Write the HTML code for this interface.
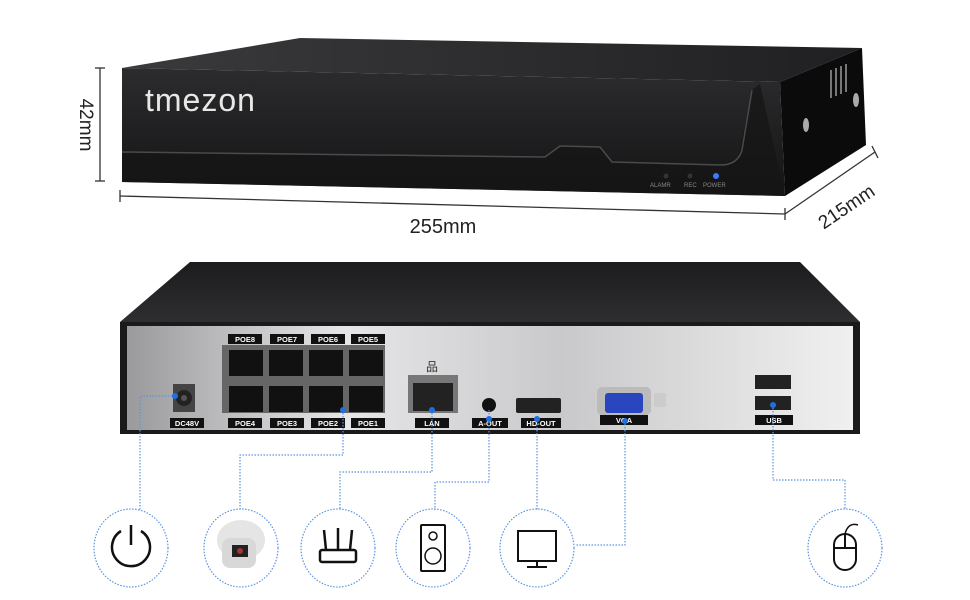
<!DOCTYPE html>
<html><head><meta charset="utf-8"><style>
html,body{margin:0;padding:0;background:#fff;}
svg{display:block}
text{font-family:"Liberation Sans",sans-serif}
</style></head><body>
<svg width="970" height="600" viewBox="0 0 970 600" xmlns="http://www.w3.org/2000/svg">
<defs>
<linearGradient id="front" x1="0" y1="0" x2="0" y2="1"><stop offset="0" stop-color="#2c2c2e"/><stop offset="1" stop-color="#141415"/></linearGradient>
<linearGradient id="topg" x1="0" y1="0" x2="1" y2="0"><stop offset="0" stop-color="#3a3a3c"/><stop offset="1" stop-color="#202022"/></linearGradient>
<linearGradient id="panel" x1="0" y1="0" x2="1" y2="0"><stop offset="0" stop-color="#9a9a9c"/><stop offset="0.3" stop-color="#e6e6e8"/><stop offset="0.6" stop-color="#c9c9cb"/><stop offset="1" stop-color="#f0f0f0"/></linearGradient>
<linearGradient id="topb" x1="0" y1="0" x2="0" y2="1"><stop offset="0" stop-color="#1c1c1e"/><stop offset="1" stop-color="#2e2e30"/></linearGradient>
</defs>

<!-- top device -->
<polygon points="122,68 300,38 862,48 780,82" fill="url(#topg)"/>
<polygon points="780,82 862,48 866,145 785,196" fill="#0b0b0c"/>
<polygon points="122,68 780,82 785,196 122,182" fill="url(#front)"/>
<polygon points="122,152 545,157 560,146 600,147 612,162 720,165 738,158 752,90 760,84 785,196 122,182" fill="#151516" opacity="0.75"/>
<path d="M122,152 L545,157 L560,146 L600,147 L612,162 L720,165 Q738,165 742,150 L752,90" fill="none" stroke="#4a4a4c" stroke-width="1.5"/>
<g fill="#777"><rect x="830" y="70" width="2" height="28"/><rect x="835" y="68" width="2" height="28"/><rect x="840" y="66" width="2" height="28"/><rect x="845" y="64" width="2" height="28"/></g>
<ellipse cx="806" cy="125" rx="3" ry="7" fill="#aaa"/><ellipse cx="856" cy="100" rx="3" ry="7" fill="#aaa"/>
<text x="145" y="111" font-size="32" fill="#e8e8e8" letter-spacing="1">tmezon</text>
<circle cx="666" cy="176" r="2.5" fill="#333"/><circle cx="690" cy="176" r="2.5" fill="#333"/><circle cx="716" cy="176" r="3" fill="#3a7bff"/>
<text x="650" y="187" font-size="6" fill="#888">ALAMR</text><text x="684" y="187" font-size="6" fill="#888">REC</text><text x="703" y="187" font-size="6" fill="#888">POWER</text>

<!-- dimensions -->
<g stroke="#333" stroke-width="1.3" fill="none">
<line x1="100" y1="68" x2="100" y2="181"/><line x1="95" y1="68" x2="105" y2="68"/><line x1="95" y1="181" x2="105" y2="181"/>
<line x1="120" y1="196" x2="785" y2="214"/><line x1="120" y1="190" x2="120" y2="202"/><line x1="785" y1="208" x2="785" y2="220"/>
<line x1="785" y1="214" x2="875" y2="152"/><line x1="872" y1="146" x2="878" y2="158"/>
</g>
<text transform="translate(80,125) rotate(90)" font-size="19" fill="#222" text-anchor="middle">42mm</text>
<text x="443" y="233" font-size="20" fill="#222" text-anchor="middle">255mm</text>
<text transform="translate(850,212) rotate(-34)" font-size="19" fill="#222" text-anchor="middle">215mm</text>

<!-- back device -->
<polygon points="120,322 190,262 800,262 860,322" fill="url(#topb)"/>
<rect x="120" y="322" width="740" height="112" fill="#1a1a1a"/>
<rect x="127" y="326" width="726" height="104" fill="url(#panel)"/>
<rect x="222" y="345" width="163" height="68" fill="#666"/>
<g fill="#111">
<rect x="229" y="350" width="34" height="26"/><rect x="269" y="350" width="34" height="26"/><rect x="309" y="350" width="34" height="26"/><rect x="349" y="350" width="34" height="26"/>
<rect x="229" y="386" width="34" height="26"/><rect x="269" y="386" width="34" height="26"/><rect x="309" y="386" width="34" height="26"/><rect x="349" y="386" width="34" height="26"/>
</g>
<g fill="#111"><rect x="228" y="334" width="34" height="10"/><rect x="270" y="334" width="34" height="10"/><rect x="311" y="334" width="34" height="10"/><rect x="351" y="334" width="34" height="10"/>
<rect x="228" y="418" width="34" height="10"/><rect x="270" y="418" width="34" height="10"/><rect x="311" y="418" width="34" height="10"/><rect x="351" y="418" width="34" height="10"/>
<rect x="170" y="418" width="34" height="10"/><rect x="415" y="418" width="34" height="10"/><rect x="472" y="418" width="36" height="10"/><rect x="521" y="418" width="40" height="10"/><rect x="600" y="415" width="48" height="10"/><rect x="755" y="415" width="38" height="10"/></g>
<g font-size="7.5" font-weight="bold" fill="#fff" text-anchor="middle">
<text x="245" y="342">POE8</text><text x="287" y="342">POE7</text><text x="328" y="342">POE6</text><text x="368" y="342">POE5</text>
<text x="245" y="426">POE4</text><text x="287" y="426">POE3</text><text x="328" y="426">POE2</text><text x="368" y="426">POE1</text>
<text x="187" y="426">DC48V</text><text x="432" y="426">LAN</text><text x="490" y="426">A-OUT</text><text x="541" y="426">HD-OUT</text><text x="624" y="423">VGA</text><text x="774" y="423">USB</text></g>
<rect x="173" y="384" width="22" height="28" fill="#444"/><circle cx="184" cy="398" r="8" fill="#222"/><circle cx="184" cy="398" r="3" fill="#555"/>
<rect x="408" y="375" width="50" height="38" fill="#777"/><rect x="413" y="383" width="40" height="28" fill="#222"/>
<text x="432" y="371" font-size="12" fill="#333" text-anchor="middle">品</text>
<circle cx="489" cy="405" r="7" fill="#111"/>
<rect x="516" y="398" width="45" height="15" rx="2" fill="#222"/>
<rect x="597" y="387" width="54" height="28" rx="5" fill="#bbb"/><rect x="605" y="393" width="38" height="20" rx="3" fill="#2a45c0"/>
<rect x="583" y="393" width="12" height="14" fill="#ccc"/><rect x="654" y="393" width="12" height="14" fill="#ccc"/>
<rect x="755" y="375" width="36" height="14" fill="#222"/><rect x="755" y="396" width="36" height="14" fill="#222"/>

<!-- connectors -->
<g stroke="#5b95e0" stroke-width="1.2" stroke-dasharray="1.5,1.5" fill="none">
<path d="M175,396 H140 V510"/>
<path d="M343,410 V455 H240 V510"/>
<path d="M432,410 V472 H340 V510"/>
<path d="M489,410 V482 H435 V510"/>
<path d="M537,418 V510"/>
<path d="M625,424 V545 H575"/>
<path d="M773,405 V480 H845 V510"/>
<ellipse cx="131" cy="548" rx="37" ry="39"/><ellipse cx="241" cy="548" rx="37" ry="39"/><ellipse cx="338" cy="548" rx="37" ry="39"/><ellipse cx="433" cy="548" rx="37" ry="39"/><ellipse cx="537" cy="548" rx="37" ry="39"/><ellipse cx="845" cy="548" rx="37" ry="39"/>
</g>
<g fill="#1f6fe0"><circle cx="175" cy="396" r="3"/><circle cx="343" cy="410" r="3"/><circle cx="432" cy="410" r="3"/><circle cx="489" cy="419" r="3"/><circle cx="537" cy="419" r="3"/><circle cx="625" cy="421" r="3"/><circle cx="773" cy="405" r="3"/></g>

<!-- icons -->
<g stroke="#111" stroke-width="2.5" fill="none">
<path d="M121,531 A19,19 0 1 0 141,531"/><line x1="131" y1="525" x2="131" y2="545"/>
<rect x="320" y="550" width="36" height="12" rx="2"/><line x1="326" y1="550" x2="324" y2="530"/><line x1="338" y1="550" x2="338" y2="528"/><line x1="350" y1="550" x2="352" y2="530"/>
<rect x="421" y="525" width="24" height="46" rx="1" stroke-width="2"/><circle cx="433" cy="536" r="4" stroke-width="1.5"/><circle cx="433" cy="556" r="8" stroke-width="1.5"/>
<rect x="518" y="531" width="38" height="30" stroke-width="2"/><line x1="537" y1="561" x2="537" y2="567" stroke-width="2"/><line x1="527" y1="567" x2="547" y2="567" stroke-width="2"/>
<rect x="834" y="534" width="22" height="36" rx="11" stroke-width="2"/><line x1="834" y1="548" x2="856" y2="548" stroke-width="2"/><line x1="845" y1="534" x2="845" y2="548" stroke-width="2"/><path d="M845,534 Q848,522 858,525" stroke-width="1.5"/>
</g>
<g><ellipse cx="241" cy="540" rx="24" ry="20" fill="#e5e5e5"/><rect x="222" y="538" width="34" height="30" rx="8" fill="#d8d8d8"/><rect x="232" y="545" width="16" height="12" fill="#222"/><circle cx="240" cy="551" r="3" fill="#a33"/></g>
</svg>
</body></html>
